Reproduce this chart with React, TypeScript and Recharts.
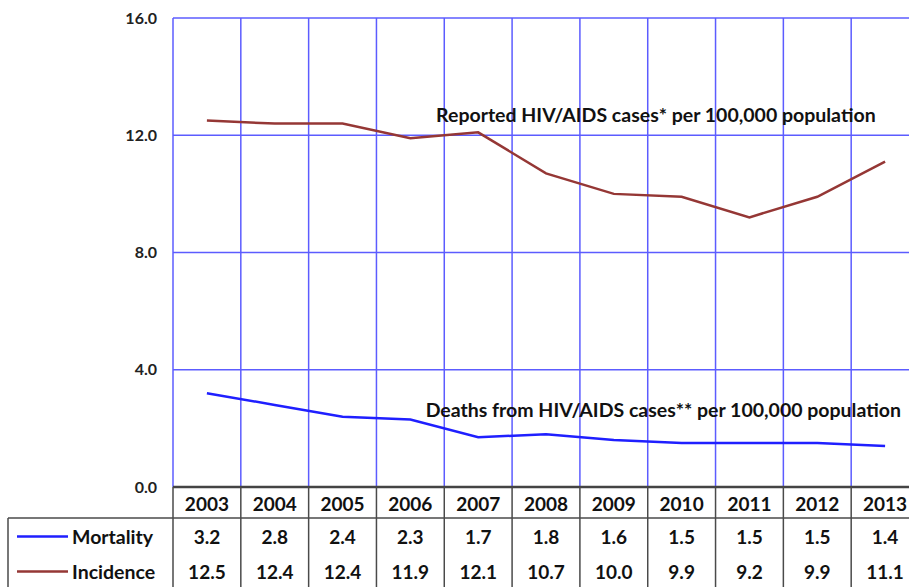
import {
  ComposedChart,
  Line,
  XAxis,
  YAxis,
  CartesianGrid,
  ReferenceDot,
} from "recharts";

const years = [2003, 2004, 2005, 2006, 2007, 2008, 2009, 2010, 2011, 2012, 2013];
const mortality = [3.2, 2.8, 2.4, 2.3, 1.7, 1.8, 1.6, 1.5, 1.5, 1.5, 1.4];
const incidence = [12.5, 12.4, 12.4, 11.9, 12.1, 10.7, 10.0, 9.9, 9.2, 9.9, 11.1];
const yTicks = [0, 4, 8, 12, 16];

const incidenceNote = "Reported HIV/AIDS cases* per 100,000 population";
const mortalityNote = "Deaths from HIV/AIDS cases** per 100,000 population";

const data = years.map((year, i) => ({
  year,
  mortality: mortality[i],
  incidence: incidence[i],
}));

// column edges of the plot / table
const colEdges = [...years.map((y) => y - 0.5), years[years.length - 1] + 0.5];
const xDomain = [colEdges[0], colEdges[colEdges.length - 1]];

const W = 930;
const H = 588;
const LEFT = 173;
const RIGHT = 11;
const colW = (W - LEFT - RIGHT) / years.length;

const FONT = "Lato, 'Open Sans', sans-serif";
const GRID = "#5c5cff";
const TABLE = "#4a4a4a";
const BLUE = "#1f1fff";
const RED = "#953735";

function cellTick(rowH: number, getText: (year: number) => string) {
  return (props: any) => {
    const { x, y, payload, index } = props;
    const last = index === years.length - 1;
    return (
      <g>
        <line x1={x - colW / 2} x2={x - colW / 2} y1={y} y2={y + rowH} stroke={TABLE} strokeWidth={1.5} />
        {last && (
          <line x1={x + colW / 2} x2={x + colW / 2} y1={y} y2={y + rowH} stroke={TABLE} strokeWidth={1.5} />
        )}
        <text
          x={x}
          y={y + rowH / 2 + 1}
          textAnchor="middle"
          dominantBaseline="central"
          fontFamily={FONT}
          fontWeight={700}
          fontSize={19}
          fill="#111"
        >
          {getText(payload.value)}
        </text>
      </g>
    );
  };
}

function legendCell(name: string, color: string, topLine: boolean) {
  return (props: any) => {
    const vb = props.viewBox || {};
    const { x = LEFT, y = 0, width = 0, height = 0 } = vb;
    const cy = y + height / 2 + 1;
    return (
      <g>
        {topLine && <line x1={8} x2={x + width} y1={y} y2={y} stroke={TABLE} strokeWidth={1.5} />}
        <line x1={8} x2={8} y1={y} y2={y + height} stroke={TABLE} strokeWidth={1.5} />
        <line x1={17} x2={68} y1={cy} y2={cy} stroke={color} strokeWidth={2.5} />
        <text
          x={72}
          y={cy}
          dominantBaseline="central"
          fontFamily={FONT}
          fontWeight={700}
          fontSize={19.5}
          fill="#111"
        >
          {name}
        </text>
      </g>
    );
  };
}

const yearOf = (v: number) => String(v);
const mortOf = (v: number) => mortality[years.indexOf(v)].toFixed(1);
const incOf = (v: number) => incidence[years.indexOf(v)].toFixed(1);

export default function App() {
  return (
    <div
      style={{
        position: "absolute",
        left: 0,
        top: 0,
        width: 909,
        height: 587,
        overflow: "hidden",
        background: "#fff",
      }}
    >
      <ComposedChart
        width={W}
        height={H}
        data={data}
        margin={{ top: 18, right: RIGHT, bottom: 0, left: 0 }}
        style={{ fontFamily: FONT }}
      >
        <CartesianGrid xAxisId="grid" stroke={GRID} strokeWidth={1.5} />
        {/* bottom axes get stacked by id order: r1 (years) next to the plot, then r2, r3 */}
        <XAxis
          xAxisId="r1year"
          dataKey="year"
          type="number"
          domain={xDomain}
          ticks={years}
          interval={0}
          height={31}
          tickSize={0}
          tickMargin={0}
          tickLine={false}
          axisLine={{ stroke: "#444", strokeWidth: 2.5 }}
          tick={cellTick(31, yearOf)}
        />
        <XAxis
          xAxisId="r2mort"
          dataKey="year"
          type="number"
          domain={xDomain}
          ticks={years}
          interval={0}
          height={35}
          tickSize={0}
          tickMargin={0}
          tickLine={false}
          axisLine={false}
          tick={cellTick(35, mortOf)}
          label={legendCell("Mortality", BLUE, true)}
        />
        <XAxis
          xAxisId="r3inc"
          dataKey="year"
          type="number"
          domain={xDomain}
          ticks={years}
          interval={0}
          height={35}
          tickSize={0}
          tickMargin={0}
          tickLine={false}
          axisLine={false}
          tick={cellTick(35, incOf)}
          label={legendCell("Incidence", RED, false)}
        />
        <XAxis
          xAxisId="grid"
          dataKey="year"
          type="number"
          domain={xDomain}
          ticks={colEdges}
          interval={0}
          height={0}
          tickSize={0}
          tick={() => <g />}
          tickLine={false}
          axisLine={false}
        />
        <YAxis
          width={LEFT}
          domain={[0, 16]}
          ticks={yTicks}
          interval={0}
          tickSize={0}
          tickMargin={16}
          tickLine={false}
          axisLine={false}
          tickFormatter={(v: number) => v.toFixed(1)}
          tick={{ fill: "#222", fontSize: 16, fontWeight: 700, fontFamily: FONT }}
        />
        <Line
          xAxisId="grid"
          type="linear"
          dataKey="incidence"
          stroke={RED}
          strokeWidth={2.5}
          dot={false}
          isAnimationActive={false}
        />
        <Line
          xAxisId="grid"
          type="linear"
          dataKey="mortality"
          stroke={BLUE}
          strokeWidth={2.5}
          dot={false}
          isAnimationActive={false}
        />
        <ReferenceDot
          xAxisId="grid"
          x={2009.62}
          y={12.69}
          r={0}
          fill="none"
          stroke="none"
          label={{ value: incidenceNote, position: "center", fill: "#111", fontSize: 19.5, fontWeight: 700, fontFamily: FONT }}
        />
        <ReferenceDot
          xAxisId="grid"
          x={2009.73}
          y={2.63}
          r={0}
          fill="none"
          stroke="none"
          label={{ value: mortalityNote, position: "center", fill: "#111", fontSize: 19.5, fontWeight: 700, fontFamily: FONT }}
        />
      </ComposedChart>
    </div>
  );
}
